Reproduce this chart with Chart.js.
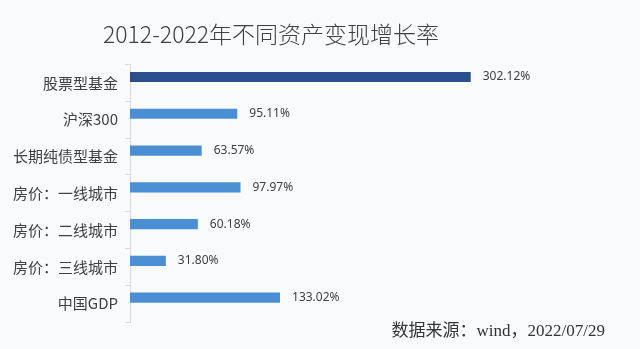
<!DOCTYPE html>
<html>
<head>
<meta charset="utf-8">
<script src="https://cdn.jsdelivr.net/npm/chart.js@4/dist/chart.umd.min.js"></script>
<style>
    html, body { margin: 0; padding: 0; background: #f9fafc; }
    #wrap { width: 640px; height: 349px; }
</style>
</head>
<body>
<div id="wrap"><canvas id="growthChart"></canvas></div>
<script>
const assets = ["股票型基金", "沪深300", "长期纯债型基金", "房价：一线城市", "房价：二线城市", "房价：三线城市", "中国GDP"];
const growth = [302.12, 95.11, 63.57, 97.97, 60.18, 31.80, 133.02];
const barColors = ["#2b4e8d", "#4a8fd3", "#4a8fd3", "#4a8fd3", "#4a8fd3", "#4a8fd3", "#4a8fd3"];
const titleText = "2012-2022年不同资产变现增长率";
const sourceText = "数据来源：wind，2022/07/29";

const textColor = "#404040";

const extraText = {
    id: "extraText",
    afterDatasetsDraw(chart) {
        const ctx = chart.ctx;
        const meta = chart.getDatasetMeta(0);
        ctx.save();
        ctx.fillStyle = textColor;
        ctx.font = "12px 'Noto Sans', 'Noto Sans CJK SC', sans-serif";
        ctx.textAlign = "left";
        ctx.textBaseline = "middle";
        meta.data.forEach((bar, i) => {
            ctx.fillText(growth[i].toFixed(2) + "%", bar.x + 12, bar.y);
        });
        ctx.font = "17px 'Liberation Serif', 'Noto Sans CJK SC', serif";
        ctx.fillStyle = "#333333";
        ctx.textAlign = "right";
        ctx.fillText(sourceText, 605, 332);
        ctx.restore();
    }
};

new Chart(document.getElementById("growthChart").getContext("2d"), {
    type: "bar",
    data: {
        labels: assets,
        datasets: [
            {
                data: growth,
                backgroundColor: barColors,
                borderWidth: 0,
                categoryPercentage: 0.65,
                barPercentage: 0.85
            },
            {
                data: assets.map(() => null),
                backgroundColor: "rgba(0,0,0,0)",
                categoryPercentage: 0.65,
                barPercentage: 0.85
            }
        ]
    },
    options: {
        indexAxis: "y",
        responsive: true,
        maintainAspectRatio: false,
        animation: false,
        layout: {
            padding: { left: 6, right: 104, top: 0, bottom: 27 }
        },
        plugins: {
            legend: { display: false },
            tooltip: { enabled: false },
            title: {
                display: true,
                text: titleText,
                color: "#404040",
                font: { family: "'Noto Sans CJK SC', sans-serif", size: 23, weight: "300" },
                padding: { top: 20, bottom: 17 }
            }
        },
        scales: {
            x: {
                display: false,
                min: 0,
                max: 360
            },
            y: {
                offset: true,
                grid: {
                    offset: true,
                    drawOnChartArea: false,
                    drawTicks: true,
                    tickLength: 5,
                    color: "#d9d9d9"
                },
                border: { color: "#d9d9d9" },
                ticks: {
                    color: textColor,
                    padding: 7,
                    font: { family: "'Noto Sans CJK SC', sans-serif", size: 15 }
                }
            }
        }
    },
    plugins: [extraText]
});
</script>
</body>
</html>
